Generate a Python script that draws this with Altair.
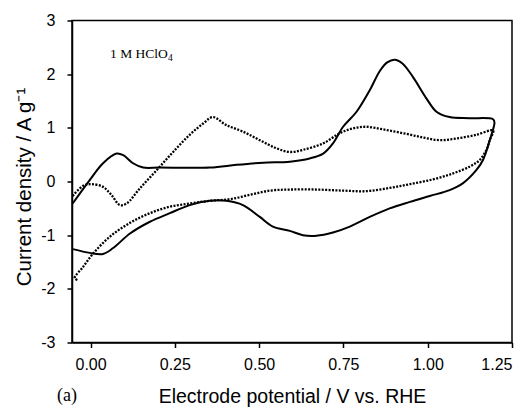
import altair as alt
import pandas as pd

# Solid curve (upper branch left->right, then lower branch right->left)
solid_x = [-0.053, -0.002, 0.037, 0.077, 0.097, 0.126, 0.156, 0.205, 0.354, 0.433, 0.512, 0.591,
           0.650, 0.690, 0.719, 0.749, 0.789, 0.828, 0.858, 0.880, 0.902, 0.925, 0.956, 0.996,
           1.026, 1.065, 1.125, 1.194, 1.198, 1.187, 1.164, 1.144, 1.105, 1.065, 1.006, 0.947,
           0.887, 0.828, 0.769, 0.719, 0.670, 0.630, 0.591, 0.541, 0.502, 0.452, 0.403, 0.354,
           0.294, 0.235, 0.176, 0.117, 0.067, 0.037, -0.002, -0.052]
solid_y = [-0.41, 0.03, 0.34, 0.52, 0.49, 0.34, 0.26, 0.26, 0.26, 0.31, 0.35, 0.37,
           0.43, 0.52, 0.71, 1.02, 1.30, 1.70, 2.06, 2.22, 2.27, 2.20, 1.95, 1.55,
           1.30, 1.20, 1.18, 1.16, 1.10, 0.83, 0.40, 0.21, -0.03, -0.16, -0.27, -0.38,
           -0.50, -0.66, -0.84, -0.95, -1.01, -1.00, -0.92, -0.84, -0.66, -0.44, -0.36, -0.36,
           -0.44, -0.59, -0.75, -0.97, -1.24, -1.35, -1.33, -1.26]

# Dotted curve
dot_x = [-0.053, -0.022, 0.003, 0.037, 0.062, 0.087, 0.107, 0.146, 0.196, 0.245, 0.294, 0.334,
         0.363, 0.403, 0.452, 0.502, 0.551, 0.591, 0.630, 0.690, 0.739, 0.779, 0.818, 0.868,
         0.927, 0.986, 1.036, 1.085, 1.144, 1.194, 1.184, 1.174, 1.154, 1.125, 1.075, 1.016,
         0.947, 0.887, 0.818, 0.749, 0.670, 0.591, 0.532, 0.472, 0.413, 0.354, 0.294, 0.235,
         0.176, 0.117, 0.057, 0.008, -0.022, -0.047, -0.037]
dot_y = [-0.27, -0.08, -0.05, -0.10, -0.25, -0.44, -0.41, -0.13, 0.21, 0.55, 0.87, 1.08,
         1.20, 1.05, 0.93, 0.77, 0.62, 0.55, 0.59, 0.71, 0.90, 0.99, 1.02, 0.97,
         0.90, 0.82, 0.77, 0.80, 0.87, 0.95, 0.77, 0.59, 0.40, 0.28, 0.15, 0.04,
         -0.05, -0.12, -0.18, -0.17, -0.15, -0.15, -0.17, -0.25, -0.33, -0.36, -0.41, -0.47,
         -0.59, -0.77, -1.03, -1.34, -1.59, -1.80, -1.84]

x_ticks = [0.0, 0.25, 0.5, 0.75, 1.0, 1.25]
y_ticks = [-3, -2, -1, 0, 1, 2, 3]

solid_df = pd.DataFrame({"x": solid_x, "y": solid_y, "i": range(len(solid_x))})
dot_df = pd.DataFrame({"x": dot_x, "y": dot_y, "i": range(len(dot_x))})

xscale = alt.Scale(domain=[-0.055, 1.25], nice=False, zero=False)
yscale = alt.Scale(domain=[-3, 3], nice=False, zero=False)

xenc = alt.X("x:Q", scale=xscale, axis=alt.Axis(
    values=x_ticks, format=".2f", title="Electrode potential / V vs. RHE",
    titleY=60, titleBaseline="alphabetic", titleFontSize=19.5, labelPadding=9))
yenc = alt.Y("y:Q", scale=yscale, axis=alt.Axis(
    values=y_ticks, labelExpr="toString(datum.value)", title="Current density / A g\u207b\u00b9",
    titleX=-42, titleY=166, titleBaseline="alphabetic", labelPadding=12))

solid = alt.Chart(solid_df).mark_line(
    color="black", strokeWidth=2, interpolate="catmull-rom"
).encode(x=xenc, y=yenc, order="i:Q")

dotted = alt.Chart(dot_df).mark_line(
    color="black", strokeWidth=2.3, strokeDash=[2, 1.4], interpolate="catmull-rom"
).encode(x="x:Q", y="y:Q", order="i:Q")

label = alt.Chart(pd.DataFrame({"t": ["1 M HClO"]})).mark_text(
    font="Liberation Serif", fontSize=13.5, align="left", baseline="alphabetic", color="black"
).encode(x=alt.value(38), y=alt.value(37.5), text="t:N")

label_sub = alt.Chart(pd.DataFrame({"t": ["4"]})).mark_text(
    font="Liberation Serif", fontSize=9.5, align="left", baseline="alphabetic", color="black"
).encode(x=alt.value(96), y=alt.value(40), text="t:N")

panel = alt.Chart(pd.DataFrame({"t": ["(a)"]})).mark_text(
    font="Liberation Serif", fontSize=18, align="left", baseline="alphabetic", color="black"
).encode(x=alt.value(-15), y=alt.value(380), text="t:N")

chart = alt.layer(solid, dotted, label, label_sub, panel).properties(
    width=440, height=322,
    background="white",
    autosize=alt.AutoSizeParams(type="none"),
    padding={"left": 64, "top": 12.5, "right": 11, "bottom": 65},
).configure_view(
    stroke="black", strokeWidth=1.5
).configure_axis(
    grid=False, domainColor="black", domainWidth=1.5, tickColor="black", tickWidth=1.5,
    tickSize=5, labelFont="Liberation Sans", labelFontSize=16, labelColor="black",
    titleFont="Liberation Sans", titleFontSize=20.5, titleFontWeight="normal", titleColor="black"
)

chart.save("out.html", embed_options={"renderer": "svg", "actions": False})
